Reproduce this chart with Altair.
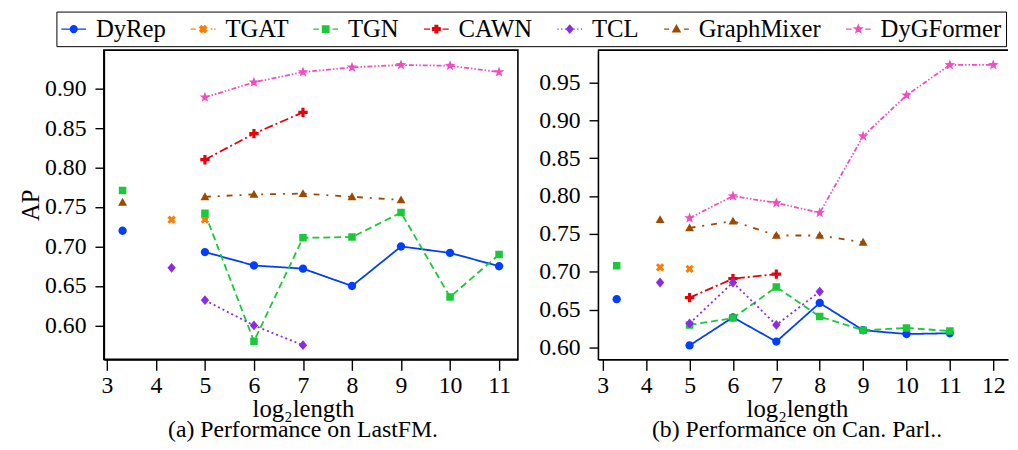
import math
import altair as alt
import pandas as pd

FONT = "Liberation Serif"

MODELS = ["DyRep", "TGAT", "TGN", "CAWN", "TCL", "GraphMixer", "DyGFormer"]
COLORS = ["#023eff", "#ff7c00", "#1ac938", "#e8000b", "#8b2be2", "#9f4800", "#f14cc1"]
DASHES = [[1, 0], [6, 3], [7, 4], [9, 3, 2, 3], [2, 3], [6, 7, 2, 7], [5, 2, 1.5, 2, 1.5, 2]]

# (a) LastFM  -- x = log2(length)
LASTFM_X = {
    "DyRep": [3.32, 5, 6, 7, 8, 9, 10, 11],
    "TGAT": [4.32, 5],
    "TGN": [3.32, 5, 6, 7, 8, 9, 10, 11],
    "CAWN": [5, 6, 7],
    "TCL": [4.32, 5, 6, 7],
    "GraphMixer": [3.32, 5, 6, 7, 8, 9],
    "DyGFormer": [5, 6, 7, 8, 9, 10, 11],
}
LASTFM_Y = {
    "DyRep": [0.720, 0.693, 0.676, 0.672, 0.650, 0.700, 0.692, 0.675],
    "TGAT": [0.734, 0.734],
    "TGN": [0.771, 0.742, 0.580, 0.711, 0.712, 0.743, 0.636, 0.690],
    "CAWN": [0.810, 0.843, 0.870],
    "TCL": [0.673, 0.632, 0.600, 0.575],
    "GraphMixer": [0.756, 0.763, 0.766, 0.767, 0.763, 0.759],
    "DyGFormer": [0.889, 0.908, 0.921, 0.927, 0.930, 0.929, 0.921],
}

# (b) Can. Parl.
CANPARL_X = {
    "DyRep": [3.32, 5, 6, 7, 8, 9, 10, 11],
    "TGAT": [4.32, 5],
    "TGN": [3.32, 5, 6, 7, 8, 9, 10, 11],
    "CAWN": [5, 6, 7],
    "TCL": [4.32, 5, 6, 7, 8],
    "GraphMixer": [4.32, 5, 6, 7, 8, 9],
    "DyGFormer": [5, 6, 7, 8, 9, 10, 11, 12],
}
CANPARL_Y = {
    "DyRep": [0.664, 0.603, 0.640, 0.608, 0.659, 0.623, 0.618, 0.619],
    "TGAT": [0.706, 0.704],
    "TGN": [0.708, 0.630, 0.639, 0.680, 0.641, 0.623, 0.626, 0.622],
    "CAWN": [0.666, 0.691, 0.697],
    "TCL": [0.686, 0.632, 0.686, 0.630, 0.674],
    "GraphMixer": [0.769, 0.758, 0.767, 0.748, 0.748, 0.739],
    "DyGFormer": [0.771, 0.800, 0.791, 0.778, 0.879, 0.933, 0.973, 0.973],
}

LASTFM_XTICKS = [3, 4, 5, 6, 7, 8, 9, 10, 11]
LASTFM_YTICKS = [0.60, 0.65, 0.70, 0.75, 0.80, 0.85, 0.90]
CANPARL_XTICKS = [3, 4, 5, 6, 7, 8, 9, 10, 11, 12]
CANPARL_YTICKS = [0.60, 0.65, 0.70, 0.75, 0.80, 0.85, 0.90, 0.95]


# ---------- marker shapes (unit box -1..1) ----------
def poly(pts, s=1.0):
    return "M" + "L".join(f"{x * s:.3f},{y * s:.3f}" for x, y in pts) + "Z"


def circle(r):
    return f"M{r:.3f},0A{r:.3f},{r:.3f} 0 1,1 {-r:.3f},0A{r:.3f},{r:.3f} 0 1,1 {r:.3f},0Z"


a = 0.34
PLUS = [(-a, -1), (a, -1), (a, -a), (1, -a), (1, a), (a, a), (a, 1), (-a, 1), (-a, a), (-1, a), (-1, -a), (-a, -a)]
c45 = math.cos(math.pi / 4)
XMARK = [((x - y) * c45 * 0.95, (x + y) * c45 * 0.95) for x, y in PLUS]
SQUARE = [(-0.85, -0.85), (0.85, -0.85), (0.85, 0.85), (-0.85, 0.85)]
DIAMOND = [(0, -1), (0.85, 0), (0, 1), (-0.85, 0)]
TRI = [(0, -0.95), (0.95, 0.72), (-0.95, 0.72)]
STAR = []
for k in range(10):
    ang = -math.pi / 2 + k * math.pi / 5
    rr = 1.0 if k % 2 == 0 else 0.42
    STAR.append((rr * math.cos(ang), rr * math.sin(ang)))


def marker(i, s):
    if i == 0:
        return circle(0.9 * s)
    return poly([XMARK, SQUARE, PLUS, DIAMOND, TRI, STAR][i - 1], s)


PLOT_SHAPES = [marker(i, 1.0) for i in range(7)]
PLOT_SIZES = [88, 88, 80, 90, 98, 90, 125]

SEGMENTS = [
    "M-1,0H1",
    "M-1,0H-0.6M0.6,0H0.75M0.88,0H1",
    "M-1,0H-0.55M0.55,0H1",
    "M-1,0H-0.5M0.5,0H1",
    "M-1,0H-0.9M-0.7,0H-0.6M-0.4,0H-0.32M0.32,0H0.4M0.6,0H0.7M0.9,0H1",
    "M-1,0H-0.6M0.6,0H1",
    "M-1,0H-0.55M0.55,0H1",
]
LEGEND_SHAPES = [SEGMENTS[i] + marker(i, 0.3) for i in range(7)]

color_scale = alt.Scale(domain=MODELS, range=COLORS)

LEGEND = alt.Legend(
    title=None,
    orient="none",
    legendX=-48,
    legendY=-39,
    direction="horizontal",
    symbolSize=625,
    symbolStrokeWidth=1.5,
    symbolOpacity=1,
    labelFont=FONT,
    labelFontSize=25,
    labelColor="black",
    labelOffset=9,
    columnPadding=22,
    padding=4,
    strokeColor="black",
    fillColor="white",
)


def frame_df(xs, ys):
    rows = []
    for m in MODELS:
        for x, y in zip(xs[m], ys[m]):
            rows.append({"model": m, "x": x, "y": y})
    return pd.DataFrame(rows)


def panel(xs, ys, xdom, ydom, xticks, yticks, width, ytitle, caption, framed, with_legend):
    df = frame_df(xs, ys)
    xenc = alt.X(
        "x:Q",
        scale=alt.Scale(domain=xdom, nice=False, zero=False),
        axis=alt.Axis(values=xticks, format="d", title="log₂length", titleX=201.5),
    )
    if ytitle:
        yaxis = alt.Axis(values=yticks, format=".2f", title=ytitle)
    else:
        yaxis = alt.Axis(values=yticks, format=".2f", title=None)
    yenc = alt.Y("y:Q", scale=alt.Scale(domain=ydom, nice=False, zero=False), axis=yaxis)
    color = alt.Color("model:N", scale=color_scale)

    layers = []
    if with_legend:
        layers.append(
            alt.Chart(df)
            .transform_filter("false")
            .mark_point(filled=True, opacity=1)
            .encode(
                x=xenc,
                y=yenc,
                color=alt.Color("model:N", scale=color_scale, legend=LEGEND),
                stroke=alt.Stroke("model:N", scale=alt.Scale(domain=MODELS, range=COLORS), legend=LEGEND),
                shape=alt.Shape("model:N", scale=alt.Scale(domain=MODELS, range=LEGEND_SHAPES), legend=LEGEND),
            )
        )
    for i, m in enumerate(MODELS):
        layers.append(
            alt.Chart(df)
            .transform_filter(alt.datum.model == m)
            .transform_filter("datum.x >= 5")
            .mark_line(strokeWidth=1.8, strokeDash=DASHES[i], clip=True)
            .encode(x=xenc, y=yenc, color=color)
        )
    for i, m in enumerate(MODELS):
        layers.append(
            alt.Chart(df)
            .transform_filter(alt.datum.model == m)
            .mark_point(filled=True, shape=PLOT_SHAPES[i], size=PLOT_SIZES[i], opacity=1, clip=True)
            .encode(x=xenc, y=yenc, color=color)
        )
    if not framed:
        layers.append(
            alt.Chart(pd.DataFrame({"top": [ydom[1]]}))
            .mark_rule(color="black", strokeWidth=1.6)
            .encode(y=alt.Y("top:Q", scale=alt.Scale(domain=ydom, nice=False, zero=False), axis=yaxis))
        )
    props = dict(
        width=width,
        height=313,
        title=alt.TitleParams(caption, orient="bottom", frame="group", anchor="middle",
                              dx=201.5 - width / 2, offset=-3),
    )
    if not framed:
        props["view"] = alt.ViewBackground(stroke="transparent")
    return alt.layer(*layers).properties(**props)


left = panel(LASTFM_X, LASTFM_Y, [2.938, 11.384], [0.557, 0.9488], LASTFM_XTICKS, LASTFM_YTICKS,
             419, "AP", "(a) Performance on LastFM.", True, True)
right = panel(CANPARL_X, CANPARL_Y, [2.888, 12.34], [0.5845, 0.9926], CANPARL_XTICKS, CANPARL_YTICKS,
              415, None, "(b) Performance on Can. Parl..", False, False)

chart = (
    alt.hconcat(left, right, spacing=19)
    .properties(padding={"left": 10, "top": 0, "right": 0, "bottom": 0})
    .configure(font=FONT)
    .configure_view(stroke="black", strokeWidth=1.6)
    .configure_axis(
        labelFont=FONT, titleFont=FONT, labelFontSize=24, titleFontSize=25,
        labelColor="black", titleColor="black", domainColor="black", tickColor="black",
        domainWidth=1.6, tickWidth=1.4, grid=False, titleFontWeight="normal",
    )
    .configure_axisX(tickSize=11, labelPadding=3, titlePadding=0)
    .configure_axisY(tickSize=9, labelPadding=9, titlePadding=1)
    .configure_legend(
        labelFont=FONT, labelFontSize=25, labelColor="black", labelOffset=9,
        columnPadding=22, padding=4, strokeColor="black", fillColor="white",
        symbolSize=625, symbolStrokeWidth=1.5, symbolOpacity=1,
    )
    .configure_title(font=FONT, fontSize=24, fontWeight="normal", color="black")
)

chart.save("out.html", embed_options={"renderer": "svg", "actions": False})
